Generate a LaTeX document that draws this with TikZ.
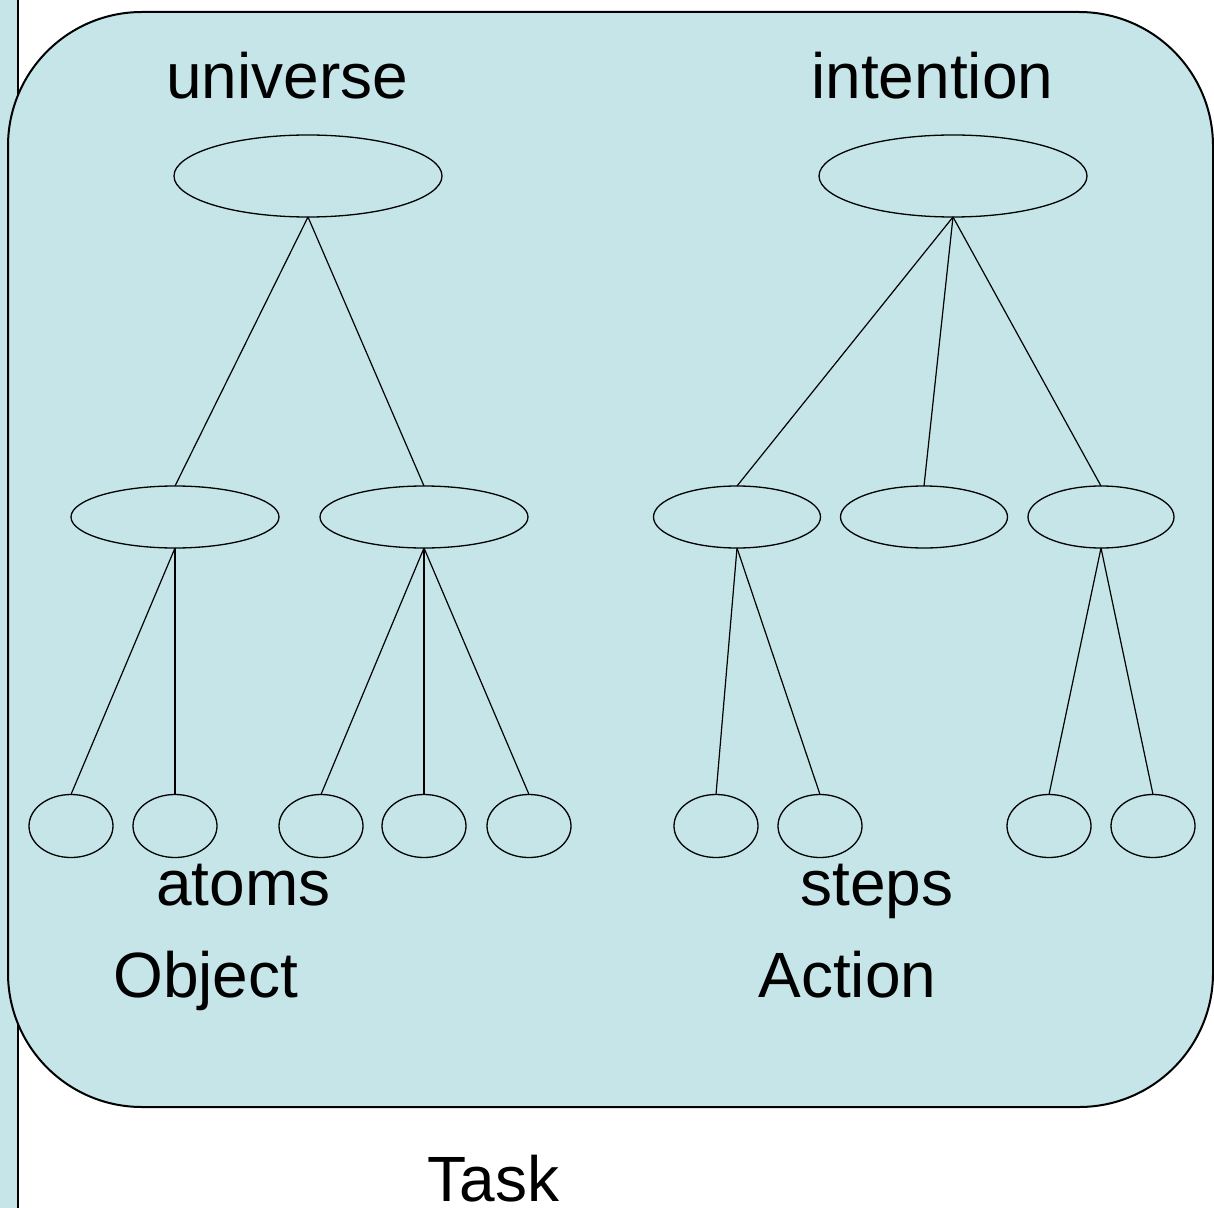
\documentclass[tikz,border=0pt]{standalone}
\usepackage{fontspec}
\setmainfont{Liberation Sans}
\usetikzlibrary{shapes.geometric}
\definecolor{panel}{RGB}{197,229,232}
\tikzset{
  oval/.style={ellipse, draw, line width=0.65pt, inner sep=0pt, outer sep=0pt},
  big/.style={oval, minimum width=134pt, minimum height=41pt},
  mida/.style={oval, minimum width=104pt, minimum height=31pt},
  midb/.style={oval, minimum width=83.5pt, minimum height=31pt},
  midc/.style={oval, minimum width=73pt, minimum height=31pt},
  leaf/.style={oval, minimum width=42pt, minimum height=31.5pt},
  lbl/.style={anchor=base west, inner sep=0pt, font=\fontsize{32}{38}\selectfont},
  edge/.style={line width=0.6pt}
}
\begin{document}
\begin{tikzpicture}[x=0.5pt,y=-0.5pt]
\useasboundingbox (0,0) rectangle (1214,1208);
% left strip
\fill[panel] (0,0) rectangle (18,1208);
\draw[line width=1pt] (18,0) -- (18,1208);
% main panel
\draw[fill=panel, line width=1pt, rounded corners=67pt] (8,12) rectangle (1213,1107);
% labels
\node[lbl] (tU) at (166,99) {universe};
\node[lbl] (tI) at (811,99) {intention};
\node[lbl] (tA) at (156,905) {atoms};
\node[lbl] (tS) at (800,905) {steps};
\node[lbl] (tO) at (113,997) {Object};
\node[lbl] (tAc) at (758,997) {Action};
\node[lbl] (tT) at (427,1201) {Task};
% tree nodes
\node[big] (U) at (308,176) {};
\node[big] (I) at (953,176) {};
\node[mida] (m1) at (175,517) {};
\node[mida] (m2) at (424,517) {};
\node[midb] (m3) at (737,517) {};
\node[midb] (m4) at (924,517) {};
\node[midc] (m5) at (1101,517) {};
\node[leaf] (b1) at (71,826) {};
\node[leaf] (b2) at (175,826) {};
\node[leaf] (b3) at (321,826) {};
\node[leaf] (b4) at (424,826) {};
\node[leaf] (b5) at (529,826) {};
\node[leaf] (b6) at (716,826) {};
\node[leaf] (b7) at (820,826) {};
\node[leaf] (b8) at (1049,826) {};
\node[leaf] (b9) at (1153,826) {};
% connectors
\draw[edge] (U.south) -- (m1.north);
\draw[edge] (U.south) -- (m2.north);
\draw[edge] (I.south) -- (m3.north);
\draw[edge] (I.south) -- (m4.north);
\draw[edge] (I.south) -- (m5.north);
\draw[edge] (m1.south) -- (b1.north);
\draw[edge] (m1.south) -- (b2.north);
\draw[edge] (m2.south) -- (b3.north);
\draw[edge] (m2.south) -- (b4.north);
\draw[edge] (m2.south) -- (b5.north);
\draw[edge] (m3.south) -- (b6.north);
\draw[edge] (m3.south) -- (b7.north);
\draw[edge] (m5.south) -- (b8.north);
\draw[edge] (m5.south) -- (b9.north);
\end{tikzpicture}
\end{document}
